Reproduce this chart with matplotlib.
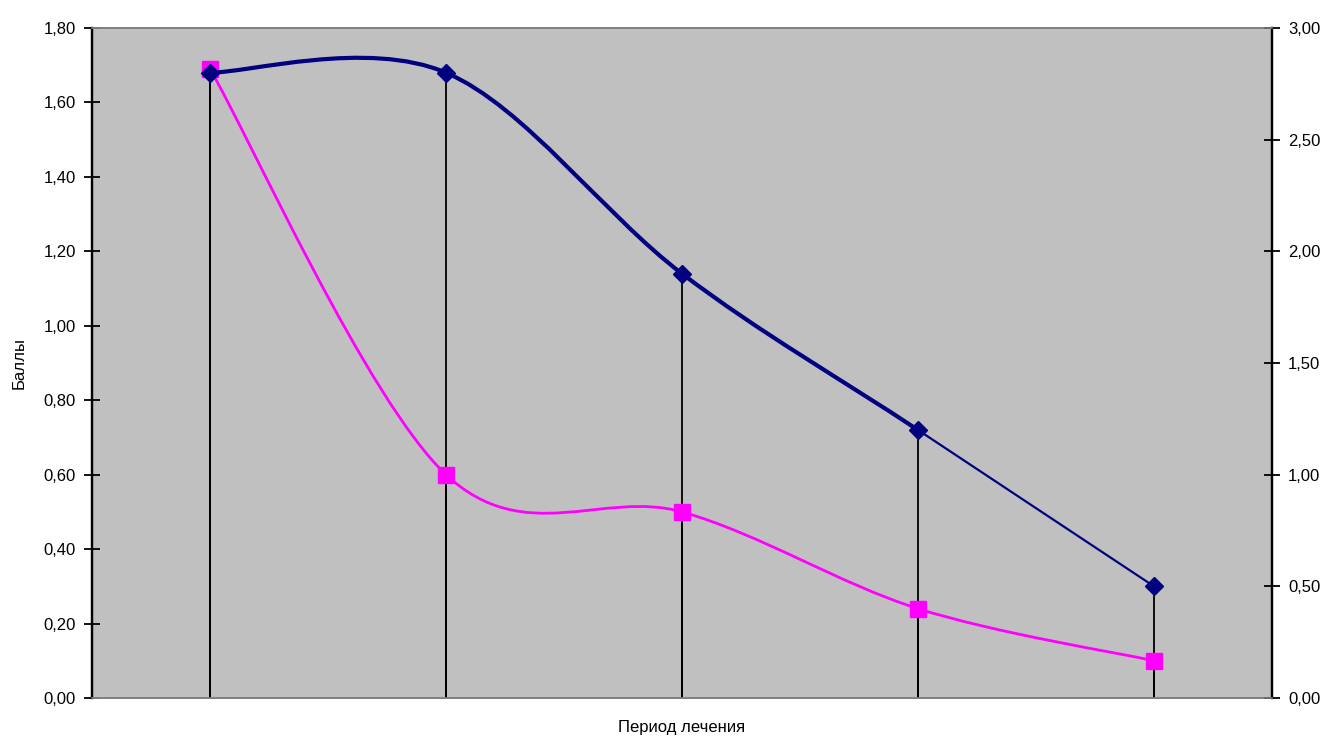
import numpy as np
import matplotlib
matplotlib.use("Agg")
import matplotlib.pyplot as plt
from matplotlib.path import Path
from matplotlib.patches import PathPatch
from matplotlib.ticker import FuncFormatter, MultipleLocator

plt.rcParams['font.family'] = ['Liberation Sans', 'DejaVu Sans']

# данные
periods = ['', '', '', '', '']
ballы_left = [1.69, 0.60, 0.50, 0.24, 0.10]      # розовая линия, левая ось
ballы_right = [2.80, 2.80, 1.90, 1.20, 0.50]     # синяя линия, правая ось

navy = '#000080'
pink = '#FF00FF'


def smooth_path(xs, ys):
    # сглаживание как в Excel (Catmull-Rom -> Безье)
    pts = np.column_stack([xs, ys]).astype(float)
    n = len(pts)
    verts = [pts[0]]
    codes = [Path.MOVETO]
    for i in range(n - 1):
        p0 = pts[i - 1] if i > 0 else pts[i]
        p1 = pts[i]
        p2 = pts[i + 1]
        p3 = pts[i + 2] if i + 2 < n else pts[i + 1]
        c1 = p1 + (p2 - p0) / 6.0
        c2 = p2 - (p3 - p1) / 6.0
        verts += [c1, c2, p2]
        codes += [Path.CURVE4] * 3
    return verts, codes


def segment_path(xs, ys, i):
    verts, codes = smooth_path(xs, ys)
    v = verts[3 * i:3 * i + 4]
    return Path(v, [Path.MOVETO] + [Path.CURVE4] * 3)


fig = plt.figure(figsize=(13.28, 7.43), dpi=100)
ax = fig.add_axes([0.0693, 0.0606, 0.8885, 0.9017])
ax2 = ax.twinx()
ax.set_facecolor('#C0C0C0')
ax.set_zorder(ax2.get_zorder() - 1)
ax2.patch.set_visible(False)

x = np.arange(len(periods))

# линии проекции
ax.vlines(x, 0, ballы_left, color='black', lw=1.3, zorder=2)
ax2.vlines(x, 0, ballы_right, color='black', lw=1.3, zorder=2)

# розовая
v, c = smooth_path(x, ballы_left)
ax2.add_patch(PathPatch(Path(v, c), transform=ax.transData, fill=False,
                        edgecolor=pink, lw=2.0, zorder=3))
ax2.plot(x, ballы_left, 's', color=pink, ms=12, transform=ax.transData, zorder=4)

# синяя (последний участок тоньше)
for i in range(len(x) - 1):
    lw = 3.0 if i < 3 else 1.6
    ax2.add_patch(PathPatch(segment_path(x, ballы_right, i), fill=False,
                            edgecolor=navy, lw=lw, zorder=5))
ax2.plot(x, ballы_right, 'D', color=navy, ms=9, zorder=6)

ax.set_xlim(-0.5, len(x) - 0.5)
ax.set_ylim(0, 1.8)
ax2.set_ylim(0, 3.0)
ax.yaxis.set_major_locator(MultipleLocator(0.2))
ax2.yaxis.set_major_locator(MultipleLocator(0.5))
fmt = FuncFormatter(lambda v, p: f"{v:.2f}".replace('.', ','))
ax.yaxis.set_major_formatter(fmt)
ax2.yaxis.set_major_formatter(fmt)

ax.set_xticks([])
for a in (ax, ax2):
    for s in a.spines.values():
        s.set_linewidth(1.2)
        s.set_color('#808080')
    a.spines['left'].set_color('black')
    a.spines['right'].set_color('black')
    a.spines['left'].set_linewidth(1.6)
    a.spines['right'].set_linewidth(1.6)
    a.tick_params(axis='y', direction='inout', length=11, width=1.3,
                  labelsize=12, pad=6)

ax.set_xlabel('Период лечения', fontsize=12, labelpad=16)
ax.set_ylabel('Баллы', fontsize=12, labelpad=12)

fig.savefig('out.png', dpi=100)
